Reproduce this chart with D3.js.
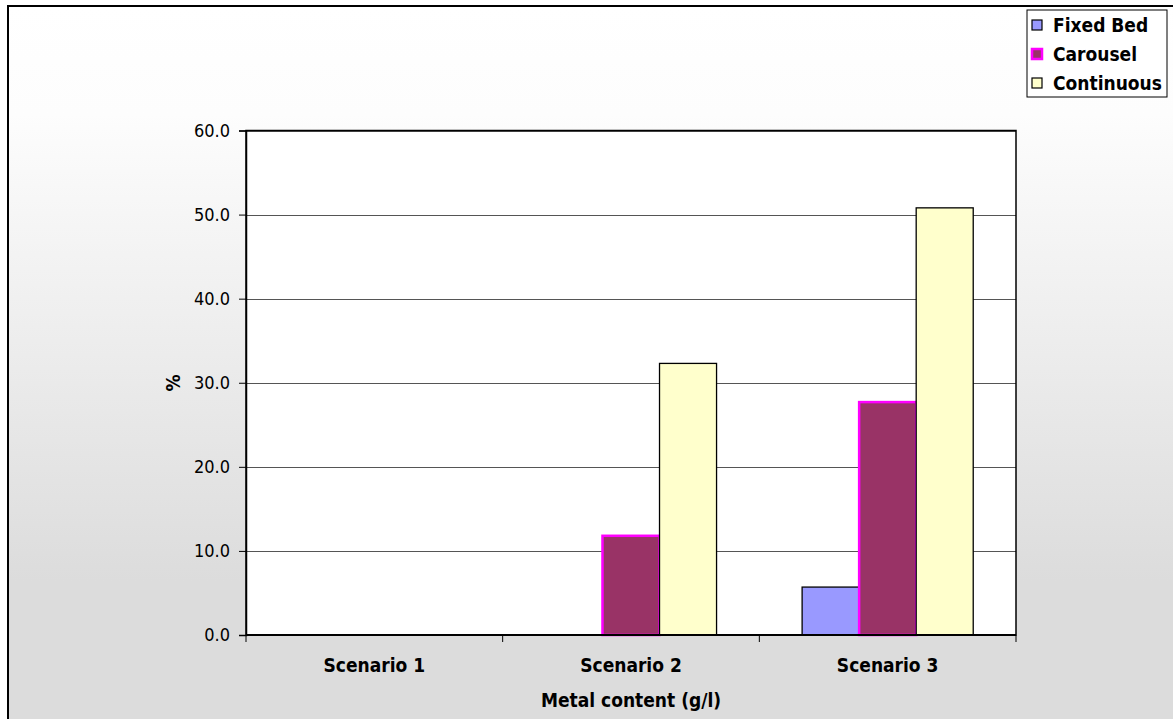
<!DOCTYPE html>
<html>
<head>
<meta charset="utf-8">
<script src="https://cdn.jsdelivr.net/npm/d3@7"></script>
<style>
  html, body { margin: 0; padding: 0; background: #fff; }
  svg { display: block; }
  text { font-family: "DejaVu Sans Condensed", "DejaVu Sans", sans-serif; fill: #000; }
</style>
</head>
<body>
<svg id="chart" width="1173" height="719"></svg>
<script>
// Categories, series and their values (%)
const categories = ["Scenario 1", "Scenario 2", "Scenario 3"];
const seriesNames = ["Fixed Bed", "Carousel", "Continuous"];
const fixedBed   = [0, 0, 5.7];
const carousel   = [0, 11.8, 27.7];
const continuous = [0, 32.3, 50.8];
const yTicks = [0, 10, 20, 30, 40, 50, 60];

const seriesValues = [fixedBed, carousel, continuous];
const fills   = ["#9999ff", "#993366", "#ffffcc"];
const strokes = ["#000000", "#ff00ff", "#000000"];
const strokeW = [1.3, 2.5, 1.3];

const svg = d3.select("#chart");
const W = 1173, H = 719;
const plot = { left: 246, right: 1016, top: 130.5, bottom: 635 };

// chart background: soft vertical gradient
const defs = svg.append("defs");
const grad = defs.append("linearGradient").attr("id", "bg")
  .attr("x1", 0).attr("y1", 0).attr("x2", 0).attr("y2", 1);
grad.append("stop").attr("offset", "0%").attr("stop-color", "#ffffff");
grad.append("stop").attr("offset", "15%").attr("stop-color", "#fdfdfd");
grad.append("stop").attr("offset", "80%").attr("stop-color", "#dcdcdc");
grad.append("stop").attr("offset", "100%").attr("stop-color", "#dcdcdc");

svg.append("rect").attr("x", 8).attr("y", 6).attr("width", W).attr("height", H)
  .attr("fill", "url(#bg)").attr("stroke", "#000").attr("stroke-width", 2);

// plot area
svg.append("rect")
  .attr("x", plot.left).attr("y", plot.top)
  .attr("width", plot.right - plot.left).attr("height", plot.bottom - plot.top)
  .attr("fill", "#fff");

const y = d3.scaleLinear().domain([0, 60]).range([plot.bottom, plot.top]);
const x0 = d3.scaleBand().domain(categories).range([plot.left, plot.right]).padding(0);
const x1 = d3.scaleBand().domain(seriesNames).range([0, x0.bandwidth()])
  .paddingInner(0).paddingOuter(0.75);

// gridlines
svg.append("g").selectAll("line").data(yTicks.filter(d => d > 0)).join("line")
  .attr("x1", plot.left).attr("x2", plot.right)
  .attr("y1", d => Math.round(y(d)) + 0.5).attr("y2", d => Math.round(y(d)) + 0.5)
  .attr("stroke", "#555").attr("stroke-width", 1);

// bars
const groups = svg.append("g").selectAll("g").data(categories).join("g")
  .attr("transform", d => `translate(${x0(d)},0)`);
groups.selectAll("rect")
  .data((c, ci) => seriesNames.map((s, si) => ({ s, si, v: seriesValues[si][ci] })).filter(d => d.v > 0))
  .join("rect")
  .attr("x", d => x1(d.s))
  .attr("y", d => y(d.v))
  .attr("width", x1.bandwidth())
  .attr("height", d => y(0) - y(d.v))
  .attr("fill", d => fills[d.si])
  .attr("stroke", d => strokes[d.si])
  .attr("stroke-width", d => strokeW[d.si]);

// plot frame
svg.append("rect")
  .attr("x", plot.left).attr("y", plot.top)
  .attr("width", plot.right - plot.left).attr("height", plot.bottom - plot.top)
  .attr("fill", "none").attr("stroke", "#000").attr("stroke-width", 1.5);

// y axis
const yAxis = d3.axisLeft(y).tickValues(yTicks).tickFormat(d3.format(".1f"))
  .tickSize(7).tickPadding(9);
const gy = svg.append("g").attr("transform", `translate(${plot.left},0)`).call(yAxis);
gy.select(".domain").attr("stroke", "#000").attr("stroke-width", 1.5);
gy.selectAll(".tick line").attr("stroke", "#000");
gy.selectAll("text").style("font-size", "18px")
  .style("font-family", "'DejaVu Sans Condensed', 'DejaVu Sans', sans-serif");

// x axis with tick marks at category boundaries
const gx = svg.append("g").attr("transform", `translate(0,${plot.bottom})`);
gx.append("line").attr("x1", plot.left).attr("x2", plot.right).attr("y1", 0).attr("y2", 0)
  .attr("stroke", "#000").attr("stroke-width", 2);
const bounds = categories.map(c => x0(c)).concat([plot.right]);
gx.selectAll("line.tk").data(bounds).join("line").attr("class", "tk")
  .attr("x1", d => d).attr("x2", d => d).attr("y1", 0).attr("y2", 7)
  .attr("stroke", "#000").attr("stroke-width", 1);
gx.selectAll("text").data(categories).join("text")
  .attr("x", d => x0(d) + x0.bandwidth() / 2).attr("y", 37)
  .attr("text-anchor", "middle")
  .style("font-size", "19px").style("font-weight", "bold")
  .text(d => d);

// axis titles
svg.append("text").attr("x", (plot.left + plot.right) / 2).attr("y", 707)
  .attr("text-anchor", "middle").style("font-size", "19px").style("font-weight", "bold")
  .text("Metal content (g/l)");
svg.append("text").attr("transform", `translate(180,383) rotate(-90)`)
  .attr("text-anchor", "middle").style("font-size", "19px").style("font-weight", "bold")
  .text("%");

// legend
const lg = svg.append("g").attr("transform", "translate(1027,10)");
lg.append("rect").attr("x", 0).attr("y", 0).attr("width", 140).attr("height", 87)
  .attr("fill", "#fff").attr("stroke", "#000").attr("stroke-width", 1);
const items = lg.selectAll("g").data(seriesNames).join("g")
  .attr("transform", (d, i) => `translate(5,${15 + i * 29})`);
items.append("rect").attr("x", 0).attr("y", -5).attr("width", 10).attr("height", 10)
  .attr("fill", (d, i) => fills[i]).attr("stroke", (d, i) => strokes[i])
  .attr("stroke-width", (d, i) => i === 1 ? 2.5 : 1.2);
items.append("text").attr("x", 21).attr("y", 7)
  .style("font-size", "19px").style("font-weight", "bold").text(d => d);
</script>
</body>
</html>
